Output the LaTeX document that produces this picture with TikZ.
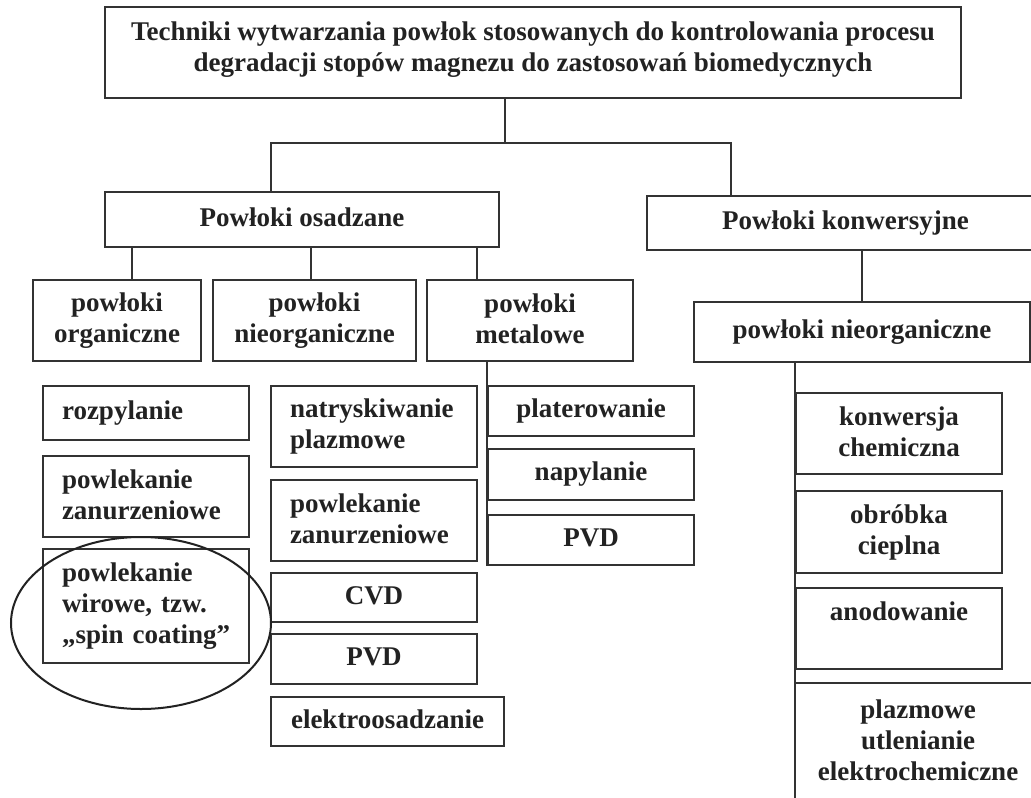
\documentclass[tikz,border=0pt]{standalone}
\usepackage{fontspec}
\setmainfont{Liberation Serif}
\usetikzlibrary{shapes.geometric}
\definecolor{linec}{HTML}{333333}
\definecolor{textc}{HTML}{222222}
\newcommand{\fnt}{\bfseries\fontsize{27}{31}\selectfont\frenchspacing\hyphenpenalty=10000\hbadness=10000\hfuzz=40pt}
\newcommand{\mystrut}{\rule[-4pt]{0pt}{21pt}}
\begin{document}
\begin{tikzpicture}[x=1pt,y=-1pt,
  box/.style={draw=linec, line width=1.6pt, inner sep=0pt, align=center, font=\fnt, text=textc,
    execute at begin node=\mystrut, execute at end node=\mystrut},
  lbox/.style={box, align=left, text width=168pt, inner xsep=19pt},
  conn/.style={draw=linec, line width=1.6pt}]
\useasboundingbox (0,0) rectangle (1031,798);
\clip (0,0) rectangle (1031,798);
\fill[white] (0,0) rectangle (1031,798);
% top
\node[box, minimum width=856, minimum height=91] (top) at (533,52.5)
  {Techniki wytwarzania powłok stosowanych do kontrolowania procesu\\degradacji stopów magnezu do zastosowań biomedycznych\rule[-12pt]{0pt}{1pt}};
\node[box, minimum width=394, minimum height=55] (osad) at (302,219.5) {Powłoki osadzane};
\node[box, minimum width=397, minimum height=54] (konw) at (845.5,223) {Powłoki konwersyjne};
% second level
\node[box, minimum width=168, minimum height=81] (org) at (117,320.5) {powłoki\\organiczne};
\node[box, minimum width=203, minimum height=81] (nieorg) at (314.5,320.5) {powłoki\\nieorganiczne};
\node[box, minimum width=206, minimum height=81] (metal) at (530,320.5) {powłoki\\metalowe};
\node[box, minimum width=336, minimum height=60] (rnieorg) at (862,332) {powłoki nieorganiczne};
% organiczne
\node[lbox, minimum height=54] (rozp) at (146,413) {rozpylanie};
\node[lbox, minimum height=81] (pzan1) at (146,496.5) {powlekanie\\zanurzeniowe};
\node[lbox, minimum height=114] (wir) at (146,606) {powlekanie\\wirowe, tzw.\\„spin~coating”};
% nieorganiczne
\node[lbox, minimum height=81] (natr) at (374,426.5) {natryskiwanie\\plazmowe};
\node[lbox, minimum height=81] (pzan2) at (374,520.5) {powlekanie\\zanurzeniowe};
\node[box, minimum width=206, minimum height=49] (cvd) at (374,597.5) {CVD};
\node[box, minimum width=206, minimum height=50] (pvd1) at (374,659) {PVD};
\node[box, minimum width=233, minimum height=49] (elek) at (387.5,721.5) {elektroosadzanie};
% metalowe
\node[box, minimum width=206, minimum height=50] (plat) at (591,411) {platerowanie};
\node[box, minimum width=206, minimum height=51] (napy) at (591,474.5) {napylanie};
\node[box, minimum width=206, minimum height=50] (pvd2) at (591,540) {PVD};
% konwersyjne
\node[box, minimum width=206, minimum height=81] (konwe) at (899,433.5) {konwersja\\chemiczna};
\node[box, minimum width=206, minimum height=82] (obro) at (899,532) {obróbka\\cieplna};
\node[box, minimum width=206, minimum height=81] (anod) at (899,628.5) {anodowanie\\~};
\node[box, draw=none, minimum width=244, minimum height=116] (plaz) at (918,742) {plazmowe\\utlenianie\\elektrochemiczne};
% highlight
\node[ellipse, draw=textc, line width=2pt, minimum width=260, minimum height=172, inner sep=0pt] (hl) at (141,623) {};
% connectors
\coordinate (j) at (505,143);
\coordinate (jl) at (271,143);
\coordinate (jr) at (731,143);
\coordinate (d1) at (132,0);
\coordinate (d2) at (311,0);
\coordinate (d3) at (477,0);
\draw[conn] (top.south -| j) -- (j);
\draw[conn] (osad.north -| jl) -- (jl) -- (jr) -- (konw.north -| jr);
\draw[conn] (osad.south -| d1) -- (org.north -| d1);
\draw[conn] (osad.south -| d2) -- (nieorg.north -| d2);
\draw[conn] (osad.south -| d3) -- (metal.north -| d3);
\draw[conn] (metal.south -| pvd2.west) -- (pvd2.south west);
\draw[conn] (konw.south -| rnieorg.north) -- (rnieorg.north);
\draw[conn] (rnieorg.south -| konwe.west) -- (plaz.south west);
\draw[conn] (plaz.north west) -- (plaz.north east);
\end{tikzpicture}
\end{document}
